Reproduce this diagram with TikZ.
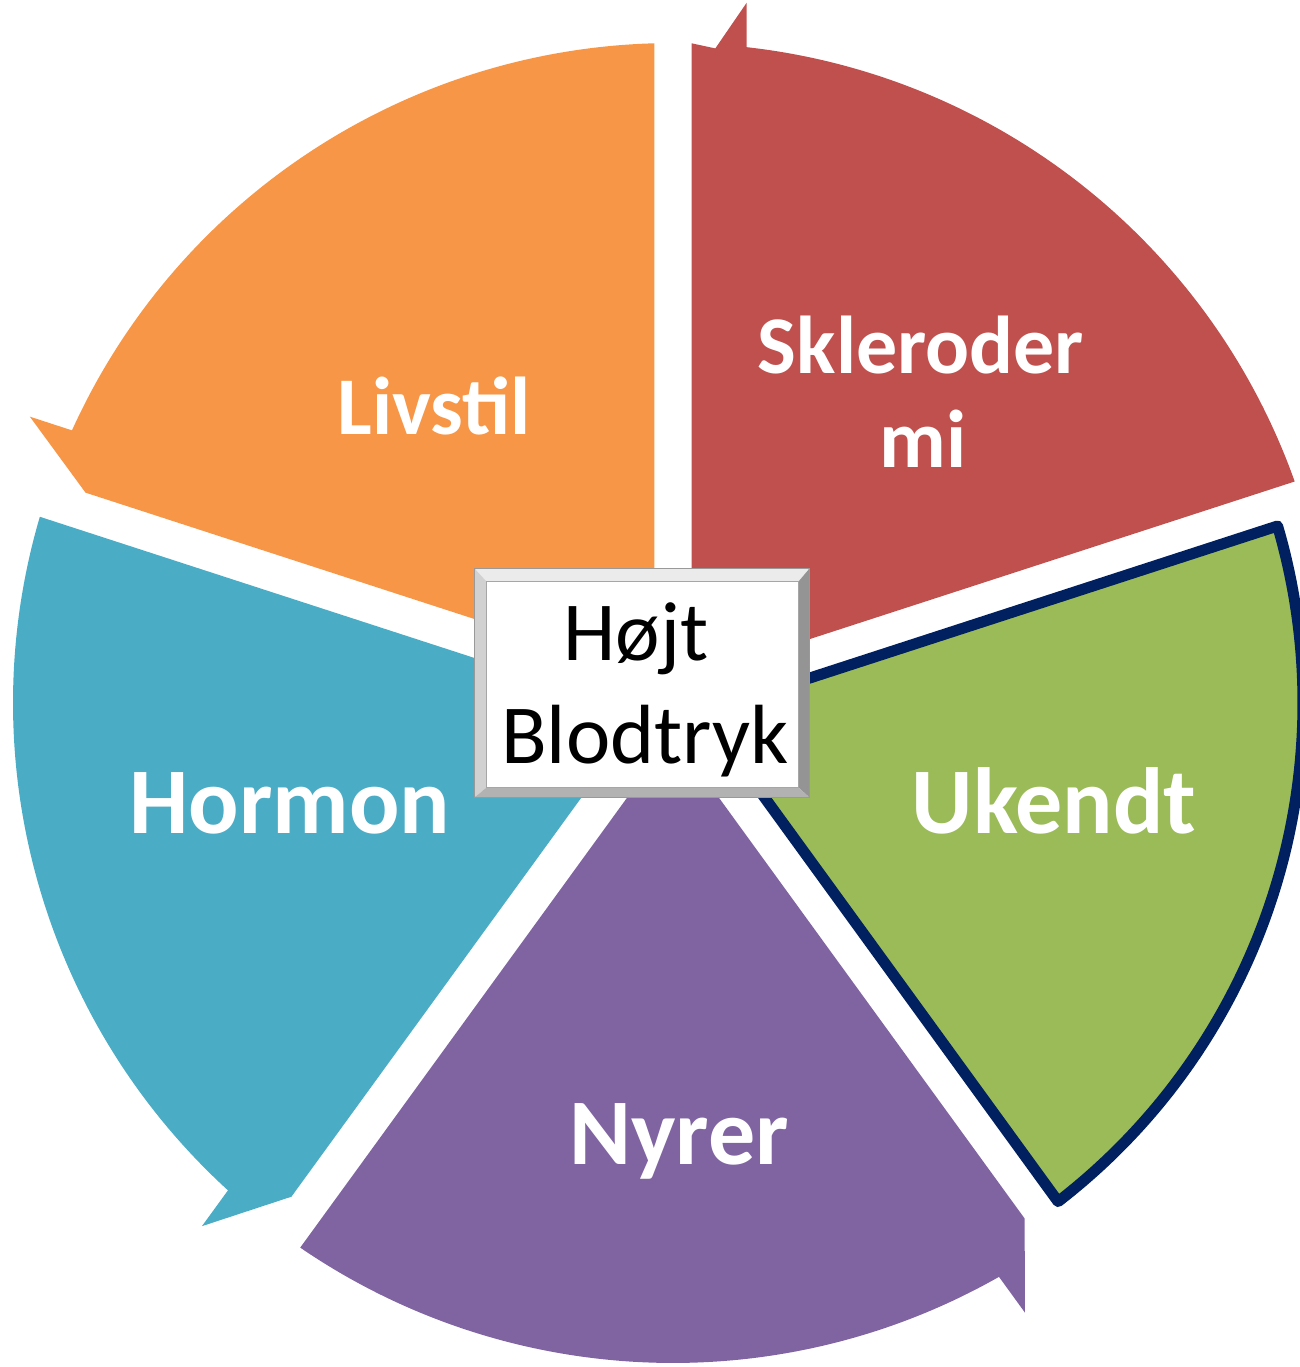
\documentclass[tikz,border=0pt]{standalone}
\usepackage{fontspec}
\setmainfont{Carlito}
\usetikzlibrary{calc}

\definecolor{cOrange}{HTML}{F79646}
\definecolor{cRed}{HTML}{C0504D}
\definecolor{cGreen}{HTML}{9BBB59}
\definecolor{cBlue}{HTML}{4BACC6}
\definecolor{cPurple}{HTML}{8064A2}
\definecolor{cNavy}{HTML}{002060}

\tikzset{
  seglabel/.style={text=white, anchor=base, inner sep=0pt,
    font=\fontsize{41}{49}\selectfont\bfseries},
  biglabel/.style={seglabel, font=\fontsize{47}{56}\selectfont\bfseries},
  hubtext/.style={text=black, anchor=base, inner sep=0pt,
    font=\fontsize{42}{50}\selectfont},
  hubbox/.style={draw=black!35, line width=0.6pt, fill=white, inner sep=0pt,
    minimum width=167pt, minimum height=114pt, rectangle},
}

% One segment of the cycle: #1 = angle of its leading (counter-clockwise) edge,
% #2 = fill colour. Pie slice with a 37-unit gap on both sides and an
% arrow barb sticking out of the rim near the leading edge.
\newcommand\arrowseg[2]{%
  \fill[#2] (#1-36:31.5) -- (#1-70.39:660)
    arc[start angle=#1-70.39, end angle=#1-6.4, radius=660]
    -- (#1-6:704) -- (#1-1.7:624) -- cycle;}

\begin{document}
\begin{tikzpicture}[x=0.5pt, y=0.5pt]
\useasboundingbox (-673,-664) rectangle (627,703);

% --- ring of segments -------------------------------------------------
% Sklerodermi (top right)
\fill[cRed] (54:31.5) -- (19.61:660)
  arc[start angle=19.61, end angle=83.6, radius=660]
  -- (84:704) -- (86.3:656) -- (88.39:660) -- cycle;
% Livstil, Hormon, Nyrer
\arrowseg{162}{cOrange}
\arrowseg{234}{cBlue}
\arrowseg{306}{cPurple}
% Ukendt (outlined)
\filldraw[fill=cGreen, draw=cNavy, line width=5.5pt, line join=round]
  (-18:31.5) -- (-52.32:630)
  arc[start angle=-52.32, end angle=16.32, radius=630] -- cycle;

% --- centre box with bevelled frame -----------------------------------
\node[hubbox] (hub) at (-31,20) {};
\fill[black!8]  (hub.north west) -- (hub.north east) -- ++(-11,-13) -- ($(hub.north west)+(12,-13)$) -- cycle;
\fill[black!18] (hub.north west) -- ($(hub.north west)+(12,-13)$) -- ($(hub.south west)+(12,10)$) -- (hub.south west) -- cycle;
\fill[black!42] (hub.north east) -- (hub.south east) -- ($(hub.south east)+(-11,10)$) -- ($(hub.north east)+(-11,-13)$) -- cycle;
\fill[black!30] (hub.south west) -- (hub.south east) -- ($(hub.south east)+(-11,10)$) -- ($(hub.south west)+(12,10)$) -- cycle;
\draw[black!40, line width=0.6pt] (hub.north west) rectangle (hub.south east);
\draw[black!35, line width=0.8pt, fill=white]
  ($(hub.north west)+(12,-13)$) rectangle ($(hub.south east)+(-11,10)$);

% --- labels -----------------------------------------------------------
\node[hubtext] (hojt) at (-37,43) {Højt};
\node[hubtext] (blodtryk) at (-28,-60) {Blodtryk};

\node[seglabel] (livstil) at (-239,269) {Livstil};
\node[seglabel] (sklA) at (248,330) {Skleroder};
\node[seglabel] (sklB) at (250,236) {mi};
\node[biglabel] (hormon) at (-383,-130) {Hormon};
\node[biglabel] (ukendt) at (381,-130) {Ukendt};
\node[biglabel] (nyrer) at (6,-461) {Nyrer};
\end{tikzpicture}
\end{document}
